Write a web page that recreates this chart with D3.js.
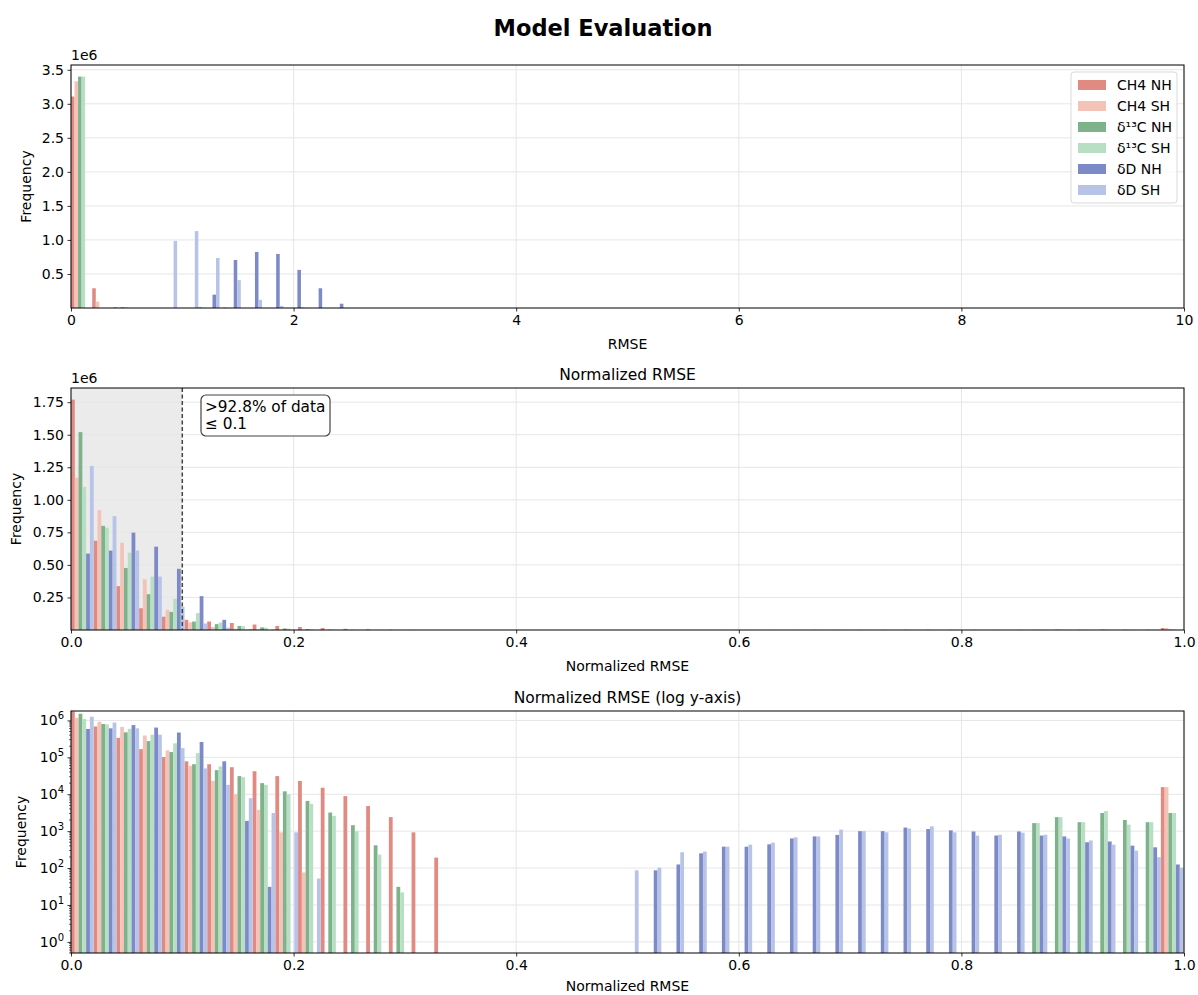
<!DOCTYPE html>
<html><head><meta charset="utf-8">
<script src="https://cdn.jsdelivr.net/npm/d3@7"></script>
<style>
body{margin:0;background:#fff;}
svg{font-family:"DejaVu Sans",sans-serif;}
</style></head>
<body><svg id="c" width="1198" height="995"></svg>
<script>
// ---------- data ----------
const seriesNames = ["CH4 NH", "CH4 SH", "δ¹³C NH", "δ¹³C SH", "δD NH", "δD SH"];
const seriesColors = ["#e08a82", "#f4c3b8", "#7db28a", "#b8dfc4", "#7c8ac8", "#b8c3e8"];

// RMSE histogram (bin width in RMSE units), counts per bin
const rmseBinWidth = 0.1907;
const ch4NH_rmse  = [3.107e6, 2.9e5, 1e4, 0, 0, 0, 1e4, 0, 0, 0, 0, 0, 0];
const ch4SH_rmse  = [3.33e6, 9.3e4, 0, 0, 0, 0, 0, 1e4, 0, 0, 0, 0, 0];
const d13cNH_rmse = [3.40e6, 0, 1e4, 0, 0, 0, 0, 0, 0, 0, 0, 0, 0];
const d13cSH_rmse = [3.40e6, 0, 1e4, 0, 0, 0, 0, 0, 0, 0, 0, 0, 0];
const dDNH_rmse   = [0, 0, 0, 0, 0, 0, 1.96e5, 7.06e5, 8.24e5, 7.94e5, 5.6e5, 2.9e5, 6.3e4];
const dDSH_rmse   = [0, 0, 0, 0, 9.85e5, 1.13e6, 7.35e5, 4.1e5, 1.2e5, 3e4, 1e4, 0, 0];

// Normalized RMSE histogram
const normBinWidth = 0.0204;
const ch4NH_norm = [1.77e6, 6.86e5, 3.37e5, 1.67e5, 1.02e5, 7.8e4, 6.5e4, 5.4e4, 4.2e4, 3.1e4, 2.3e4, 1.5e4, 8.9e3, 4.8e3, 2.4e3, 930, 192,
  0, 0, 0, 0, 0, 0, 0, 0, 0, 0, 0, 0, 0, 0, 0, 0, 0, 0, 0, 0, 0, 0, 0, 0, 0, 0, 0, 0, 0, 0, 0,
  1.56e4];
const ch4SH_norm = [1.17e6, 9.2e5, 6.7e5, 3.9e5, 1.55e5, 5.9e4, 2.3e4, 1.0e4, 3.8e3, 930, 76,
  0, 0, 0, 0, 0, 0, 0, 0, 0, 0, 0, 0, 0, 0, 0, 0, 0, 0, 0, 0, 0, 0, 0, 0, 0, 0, 0, 0, 0, 0, 0, 0, 0, 0, 0, 0, 0,
  1.56e4];
const d13cNH_norm = [1.52e6, 8.0e5, 4.77e5, 2.75e5, 1.39e5, 6.5e4, 4.5e4, 3.1e4, 2.0e4, 1.2e4, 6.6e3, 3.2e3, 1.45e3, 414, 31,
  0, 0, 0, 0, 0, 0, 0, 0, 0, 0, 0, 0, 0, 0, 0, 0, 0, 0, 0, 0, 0, 0, 0, 0, 0, 0, 0,
  1.65e3, 2.4e3, 1.75e3, 3.1e3, 2.0e3, 1.75e3, 3.1e3];
const d13cSH_norm = [1.1e6, 7.86e5, 5.94e5, 4.1e5, 2.4e5, 1.3e5, 5.7e4, 2.9e4, 1.8e4, 1.0e4, 5.5e3, 2.6e3, 1.0e3, 233, 22,
  0, 0, 0, 0, 0, 0, 0, 0, 0, 0, 0, 0, 0, 0, 0, 0, 0, 0, 0, 0, 0, 0, 0, 0, 0, 0, 0,
  1.65e3, 2.4e3, 1.75e3, 3.5e3, 1.5e3, 1.75e3, 3.1e3];
const dDNH_norm = [5.87e5, 6.1e5, 7.48e5, 6.4e5, 4.7e5, 2.6e5, 7.8e4, 1.9e3, 31,
  0, 0, 0, 0, 0, 0, 0, 0, 0, 0, 0, 0, 0, 0, 0, 0,
  87, 125, 251, 380, 380, 440, 635, 720, 790, 1000, 1000, 1250, 1140, 1050, 980, 760, 980, 760, 720, 500, 525, 405, 365, 125];
const dDSH_norm = [1.26e6, 8.75e5, 6.1e5, 4.1e5, 1.78e5, 5.0e4, 1.8e4, 7.8e3, 3.1e3, 930, 52,
  0, 0, 0, 0, 0, 0, 0, 0, 0, 0, 0, 0, 0,
  87, 102, 268, 280, 380, 430, 490, 680, 720, 1100, 1000, 930, 1180, 1350, 930, 760, 800, 910, 800, 630, 560, 430, 297, 197, 102];

const rmseTicks = [0, 2, 4, 6, 8, 10];
const normTicks = [0, 0.2, 0.4, 0.6, 0.8, 1.0];
const rmseYTicks = [0.5e6, 1.0e6, 1.5e6, 2.0e6, 2.5e6, 3.0e6, 3.5e6];
const normYTicks = [0.25e6, 0.5e6, 0.75e6, 1.0e6, 1.25e6, 1.5e6, 1.75e6];
const logYTicks = [1, 10, 100, 1e3, 1e4, 1e5, 1e6];
const thresholdValue = 0.1;
const annotationLines = [">92.8% of data", "≤ 0.1"];

// ---------- drawing ----------
const svg = d3.select("#c");
const L = 71, R = 1184;
const FS = 14;

svg.append("text").attr("x", 603).attr("y", 36).attr("text-anchor", "middle")
  .attr("font-size", 22.5).attr("font-weight", "bold").text("Model Evaluation");

function drawPanel(cfg) {
  const g = svg.append("g");
  const x = d3.scaleLinear().domain(cfg.xDomain).range([L, R]);
  const y = cfg.log
    ? d3.scaleLog().domain(cfg.yDomain).range([cfg.bottom, cfg.top])
    : d3.scaleLinear().domain(cfg.yDomain).range([cfg.bottom, cfg.top]);
  const clipId = "clip" + cfg.id;
  svg.append("clipPath").attr("id", clipId).append("rect")
    .attr("x", L).attr("y", cfg.top).attr("width", R - L).attr("height", cfg.bottom - cfg.top);

  if (cfg.shade) {
    g.append("rect").attr("x", x(0)).attr("y", cfg.top).attr("width", x(thresholdValue) - x(0))
      .attr("height", cfg.bottom - cfg.top).attr("fill", "#ebebeb");
  }
  const grid = g.append("g").attr("stroke", "#e6e6e6").attr("stroke-width", 1);
  cfg.xTicks.forEach(t => grid.append("line").attr("x1", x(t)).attr("x2", x(t)).attr("y1", cfg.top).attr("y2", cfg.bottom));
  cfg.yTicks.forEach(t => grid.append("line").attr("x1", L).attr("x2", R).attr("y1", y(t)).attr("y2", y(t)));

  const bw = cfg.binWidth / 6;
  const barsG = g.append("g").attr("clip-path", `url(#${clipId})`);
  cfg.series.forEach((vals, i) => {
    const recs = vals.map((v, k) => ({k, v})).filter(d => d.v > 0);
    barsG.append("g").selectAll("rect").data(recs).join("rect")
      .attr("x", d => x(d.k * cfg.binWidth + i * bw))
      .attr("width", x(bw) - x(0))
      .attr("y", d => y(d.v))
      .attr("height", d => Math.max(0, cfg.bottom - y(d.v)))
      .attr("fill", seriesColors[i]);
  });

  if (cfg.shade) {
    g.append("line").attr("x1", x(thresholdValue)).attr("x2", x(thresholdValue))
      .attr("y1", cfg.top).attr("y2", cfg.bottom).attr("stroke", "#444").attr("stroke-width", 1.5)
      .attr("stroke-dasharray", "4,2.5");
    const bx = 201, by = 395;
    g.append("rect").attr("x", bx).attr("y", by).attr("width", 129).attr("height", 41).attr("rx", 5)
      .attr("fill", "white").attr("stroke", "#444").attr("stroke-width", 1.2);
    annotationLines.forEach((t, j) => g.append("text").attr("x", bx + 4).attr("y", by + 17 + j * 17)
      .attr("font-size", 15.3).text(t));
  }

  const xa = g.append("g").attr("transform", `translate(0,${cfg.bottom})`)
    .call(d3.axisBottom(x).tickValues(cfg.xTicks).tickSize(3.5).tickPadding(3.5).tickSizeOuter(0)
      .tickFormat(cfg.xFormat));
  let ya;
  if (cfg.log) {
    ya = g.append("g").attr("transform", `translate(${L},0)`)
      .call(d3.axisLeft(y).tickValues(cfg.yTicks).tickSize(3.5).tickPadding(3.5).tickSizeOuter(0).tickFormat(""));
    const minor = [];
    for (let e = -1; e <= 6; e++) for (let m = 2; m <= 9; m++) {
      const v = m * Math.pow(10, e);
      if (v >= cfg.yDomain[0] && v <= cfg.yDomain[1]) minor.push(v);
    }
    g.append("g").selectAll("line").data(minor).join("line")
      .attr("x1", L - 2).attr("x2", L).attr("y1", d => y(d)).attr("y2", d => y(d))
      .attr("stroke", "#000").attr("stroke-width", 0.6);
    const lbl = g.append("g");
    cfg.yTicks.forEach(t => {
      const tx = lbl.append("text").attr("x", L - 7).attr("y", y(t) + 5).attr("text-anchor", "end").attr("font-size", FS);
      tx.append("tspan").text("10");
      tx.append("tspan").attr("dy", -6).attr("font-size", 10).text(Math.round(Math.log10(t)));
    });
  } else {
    ya = g.append("g").attr("transform", `translate(${L},0)`)
      .call(d3.axisLeft(y).tickValues(cfg.yTicks).tickSize(3.5).tickPadding(3.5).tickSizeOuter(0)
        .tickFormat(cfg.yFormat));
    svg.append("text").attr("x", L).attr("y", cfg.top - 5).attr("font-size", FS).text("1e6");
  }
  [xa, ya].forEach(a => {
    a.select(".domain").remove();
    a.selectAll("text").attr("font-size", FS).attr("font-family", "DejaVu Sans").attr("fill", "#000");
    a.selectAll("line").attr("stroke", "#000").attr("stroke-width", 0.8);
  });
  g.append("rect").attr("x", L).attr("y", cfg.top).attr("width", R - L).attr("height", cfg.bottom - cfg.top)
    .attr("fill", "none").attr("stroke", "#000").attr("stroke-width", 1);

  svg.append("text").attr("x", (L + R) / 2).attr("y", cfg.bottom + cfg.xLabelOffset).attr("text-anchor", "middle")
    .attr("font-size", FS).text(cfg.xLabel);
  svg.append("text").attr("transform", `translate(${cfg.yLabelX},${(cfg.top + cfg.bottom) / 2}) rotate(-90)`)
    .attr("text-anchor", "middle").attr("font-size", FS).text("Frequency");
  if (cfg.title) {
    svg.append("text").attr("x", (L + R) / 2).attr("y", cfg.top - 8).attr("text-anchor", "middle")
      .attr("font-size", 15.5).text(cfg.title);
  }
  return {x, y};
}

const fmt2 = d => d3.format(".2f")(d / 1e6);
const fmt1 = d => d3.format(".1f")(d / 1e6);

drawPanel({id: 1, top: 65, bottom: 308, xDomain: [0, 10], yDomain: [0.5, 3.57e6], binWidth: rmseBinWidth,
  series: [ch4NH_rmse, ch4SH_rmse, d13cNH_rmse, d13cSH_rmse, dDNH_rmse, dDSH_rmse],
  xTicks: rmseTicks, yTicks: rmseYTicks, xFormat: d3.format("d"), yFormat: fmt1,
  xLabel: "RMSE", xLabelOffset: 41, yLabelX: 31});
drawPanel({id: 2, top: 388, bottom: 630, xDomain: [0, 1], yDomain: [0.5, 1.859e6], binWidth: normBinWidth,
  series: [ch4NH_norm, ch4SH_norm, d13cNH_norm, d13cSH_norm, dDNH_norm, dDSH_norm],
  xTicks: normTicks, yTicks: normYTicks, xFormat: d3.format(".1f"), yFormat: fmt2,
  xLabel: "Normalized RMSE", xLabelOffset: 41, yLabelX: 21, title: "Normalized RMSE", shade: true});
drawPanel({id: 3, top: 711, bottom: 953, xDomain: [0, 1], yDomain: [0.5, 1.8e6], binWidth: normBinWidth, log: true,
  series: [ch4NH_norm, ch4SH_norm, d13cNH_norm, d13cSH_norm, dDNH_norm, dDSH_norm],
  xTicks: normTicks, yTicks: logYTicks, xFormat: d3.format(".1f"),
  xLabel: "Normalized RMSE", xLabelOffset: 38, yLabelX: 26, title: "Normalized RMSE (log y-axis)"});

const lg = svg.append("g");
lg.append("rect").attr("x", 1071).attr("y", 72).attr("width", 106).attr("height", 131).attr("rx", 3)
  .attr("fill", "white").attr("fill-opacity", 0.8).attr("stroke", "#d9d9d9");
seriesNames.forEach((n, i) => {
  const yy = 85 + i * 21;
  lg.append("rect").attr("x", 1078).attr("y", yy - 5).attr("width", 28).attr("height", 10).attr("fill", seriesColors[i]);
  lg.append("text").attr("x", 1117).attr("y", yy + 5).attr("font-size", FS).text(n);
});
</script></body></html>
